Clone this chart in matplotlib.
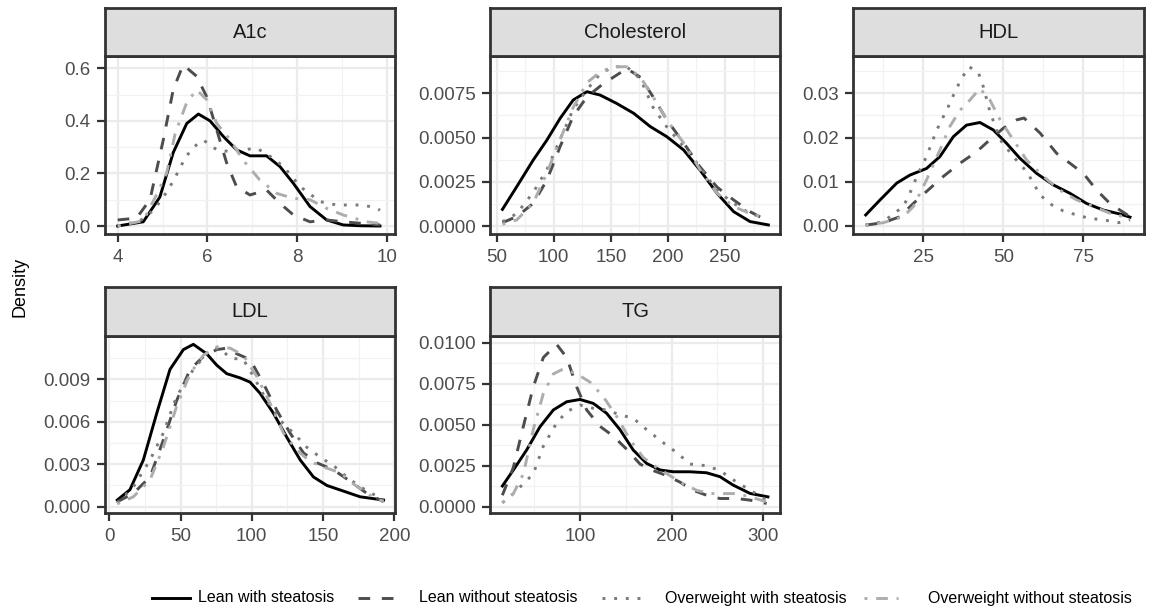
import matplotlib
matplotlib.use("Agg")
import matplotlib.pyplot as plt
from matplotlib.lines import Line2D

plt.rcParams['font.family'] = ['Liberation Sans', 'DejaVu Sans']

# groups (legend order)
groups = ['Lean with steatosis', 'Lean without steatosis',
          'Overweight with steatosis', 'Overweight without steatosis']

# ---- A1c ----
a1c_lws_x = [4.0, 4.57, 4.94, 5.24, 5.54, 5.8, 6.06, 6.36, 6.65, 6.95, 7.32, 7.62, 7.92, 8.29, 8.66, 9.03, 9.4, 9.85]
a1c_lws_y = [0.0, 0.016, 0.11, 0.28, 0.39, 0.426, 0.40, 0.34, 0.29, 0.267, 0.267, 0.226, 0.162, 0.074, 0.023, 0.004, 0.001, 0.0]
a1c_lns_x = [4.0, 4.42, 4.72, 5.02, 5.24, 5.46, 5.76, 5.99, 6.21, 6.43, 6.65, 6.95, 7.32, 7.62, 7.92, 8.29, 8.66, 9.03, 9.85]
a1c_lns_y = [0.023, 0.03, 0.1, 0.33, 0.52, 0.613, 0.57, 0.49, 0.365, 0.24, 0.15, 0.118, 0.137, 0.086, 0.042, 0.016, 0.023, 0.016, 0.004]
a1c_ows_x = [4.0, 4.5, 4.8, 5.02, 5.2, 5.35, 5.5, 5.69, 5.91, 6.21, 6.5, 6.8, 7.1, 7.36, 7.7, 8.07, 8.51, 8.88, 9.18, 9.48, 9.78, 9.85]
a1c_ows_y = [0.0, 0.02, 0.06, 0.11, 0.16, 0.207, 0.258, 0.30, 0.327, 0.29, 0.283, 0.29, 0.296, 0.27, 0.226, 0.15, 0.093, 0.08, 0.08, 0.08, 0.067, 0.06]
a1c_ons_x = [4.0, 4.57, 4.87, 5.09, 5.28, 5.54, 5.76, 5.99, 6.21, 6.5, 6.8, 7.17, 7.55, 7.92, 8.29, 8.66, 9.03, 9.55, 9.85]
a1c_ons_y = [0.0, 0.02, 0.12, 0.2, 0.35, 0.47, 0.518, 0.48, 0.39, 0.33, 0.25, 0.175, 0.124, 0.105, 0.1, 0.067, 0.042, 0.016, 0.01]

# ---- Cholesterol ----
chol_lws_x = [55, 67.5, 82, 94, 105.6, 117, 129, 140.6, 155, 170, 184.5, 199, 213.7, 228, 243, 257.6, 272, 288]
chol_lws_y = [0.00094, 0.00222, 0.00373, 0.00486, 0.00609, 0.00712, 0.00759, 0.0074, 0.00693, 0.00637, 0.00562, 0.00505, 0.0043, 0.00317, 0.00185, 0.00081, 0.00025, 0.00006]
chol_lns_x = [55, 67.5, 82, 94, 105.6, 117, 129, 140.6, 152, 164, 176, 187, 199, 213.7, 228, 243, 257.6, 272, 284]
chol_lns_y = [0.00019, 0.00053, 0.00128, 0.0026, 0.0045, 0.0062, 0.0073, 0.0079, 0.0084, 0.0089, 0.0084, 0.0073, 0.006, 0.0047, 0.00335, 0.0022, 0.00147, 0.00081, 0.0004]
chol_ows_x = [55, 67.5, 82, 94, 105.6, 117, 129, 140.6, 152, 164, 176, 187, 199, 213.7, 228, 243, 257.6, 272, 284]
chol_ows_y = [0.00024, 0.0007, 0.0019, 0.0032, 0.0049, 0.0066, 0.0077, 0.0086, 0.009, 0.009, 0.0083, 0.0067, 0.0056, 0.0045, 0.00335, 0.002, 0.00128, 0.0007, 0.0005]
chol_ons_x = [55, 67.5, 82, 94, 105.6, 117, 129, 140.6, 152, 164, 176, 187, 199, 213.7, 228, 243, 257.6, 272, 284]
chol_ons_y = [0.0001, 0.00034, 0.0013, 0.003, 0.0049, 0.0067, 0.0081, 0.0087, 0.009, 0.009, 0.0084, 0.0073, 0.006, 0.0047, 0.0032, 0.00185, 0.0011, 0.0007, 0.0005]

# ---- HDL ----
hdl_lws_x = [7, 11.5, 16.7, 20.8, 26, 30.2, 34.4, 38.5, 42.7, 46.9, 51, 55.2, 60.4, 65.6, 70.8, 76, 81.25, 86.5, 89.6]
hdl_lws_y = [0.0025, 0.0059, 0.0097, 0.0115, 0.013, 0.0157, 0.0202, 0.0228, 0.0234, 0.0217, 0.0187, 0.0153, 0.0119, 0.0093, 0.0074, 0.0051, 0.0036, 0.0027, 0.002]
hdl_lns_x = [7, 12.5, 17.7, 21.9, 26, 31.25, 36.5, 41.7, 45.8, 50, 54.2, 56.5, 61.5, 66.7, 70.8, 75, 79.2, 83.3, 89.6]
hdl_lns_y = [0.0002, 0.00075, 0.0021, 0.0051, 0.0078, 0.0112, 0.0142, 0.0168, 0.0195, 0.0221, 0.024, 0.0244, 0.021, 0.0164, 0.0142, 0.0119, 0.0081, 0.0051, 0.0021]
hdl_ows_x = [7, 12.5, 18.75, 20.8, 23.4, 26, 29.2, 31.25, 33.3, 34.9, 37, 39.3, 42.2, 43.75, 45.8, 49, 53.1, 57.3, 59.4, 61.5, 65.1, 68.75, 72.9, 77.1, 81.25, 86, 89.6]
hdl_ows_y = [0.0002, 0.001, 0.0044, 0.0074, 0.0119, 0.0157, 0.0217, 0.0247, 0.0277, 0.0304, 0.0334, 0.036, 0.0347, 0.0315, 0.0259, 0.0195, 0.0157, 0.0123, 0.0097, 0.007, 0.0048, 0.0034, 0.0025, 0.0017, 0.0014, 0.00075, 0.0014]
hdl_ons_x = [7, 12.5, 18.75, 21.9, 26, 30.2, 33.3, 36.5, 39.6, 42.7, 45.8, 49, 53.1, 57.3, 62.5, 67.7, 72.9, 78.1, 83.3, 89.6]
hdl_ons_y = [0.0002, 0.00075, 0.0021, 0.0044, 0.0104, 0.0172, 0.0225, 0.0262, 0.0285, 0.0311, 0.0285, 0.024, 0.0195, 0.0149, 0.0112, 0.0081, 0.0059, 0.0044, 0.0029, 0.0017]

# ---- LDL ----
ldl_lws_x = [5.6, 14.5, 23.9, 33.3, 42.6, 52, 59, 68.4, 75.4, 82.4, 91.8, 98.8, 105.9, 115.2, 124.6, 134, 143.3, 152.7, 164.4, 176, 192.5]
ldl_lws_y = [0.00047, 0.0012, 0.0033, 0.0066, 0.0097, 0.0111, 0.01147, 0.0108, 0.01, 0.0094, 0.0091, 0.0088, 0.008, 0.0066, 0.0049, 0.0033, 0.0021, 0.0015, 0.0011, 0.0007, 0.00047]
ldl_lns_x = [5.6, 16.9, 28.6, 37.9, 47.3, 56.7, 66, 75.4, 82.4, 89.5, 98.8, 108.2, 117.6, 126.9, 136.3, 145.7, 157.4, 169, 180.8, 192.5]
ldl_lns_y = [0.00035, 0.00094, 0.0021, 0.0047, 0.0075, 0.0097, 0.0106, 0.0111, 0.0112, 0.0108, 0.0104, 0.0087, 0.0068, 0.0052, 0.0038, 0.0031, 0.0026, 0.0018, 0.00094, 0.00035]
ldl_ows_x = [5.6, 16.9, 28.6, 37.9, 47.3, 59, 70.7, 77.8, 84.8, 94.1, 101.2, 110.5, 119.9, 129.3, 138.6, 148, 157.4, 166.7, 176.1, 192.5]
ldl_ows_y = [0.00024, 0.0014, 0.0033, 0.0052, 0.0078, 0.0097, 0.0111, 0.0112, 0.0105, 0.0104, 0.0092, 0.0075, 0.0061, 0.0052, 0.0042, 0.0035, 0.0029, 0.0021, 0.0014, 0.00047]
ldl_ons_x = [5.6, 16.9, 28.6, 37.9, 47.3, 56.7, 66, 75.4, 84.8, 94.1, 103.5, 112.9, 122.2, 131.6, 141, 150.4, 162, 171.4, 183.1, 192.5]
ldl_ons_y = [0.0002, 0.0007, 0.0019, 0.0042, 0.0071, 0.0094, 0.0107, 0.0113, 0.0112, 0.0107, 0.0092, 0.0073, 0.0052, 0.004, 0.0032, 0.0028, 0.0024, 0.0016, 0.0008, 0.00035]

# ---- TG ----
tg_lws_x = [15.3, 27.3, 41.8, 56.4, 70.9, 85.5, 100, 114.5, 129, 143.6, 158, 172.7, 187.3, 201.8, 220, 238, 252.7, 267, 285.5, 305]
tg_lws_y = [0.00126, 0.00224, 0.00346, 0.00488, 0.0059, 0.0064, 0.00654, 0.0063, 0.0057, 0.0047, 0.00346, 0.00264, 0.00224, 0.00213, 0.00213, 0.00207, 0.00183, 0.00132, 0.00081, 0.0006]
tg_lns_x = [15.3, 27.3, 38.2, 49, 60, 74.5, 85.5, 96.4, 107.3, 121.8, 136.4, 151, 165.5, 180, 194.5, 209, 223.6, 238, 252.7, 270.9, 285.5, 303.6]
tg_lns_y = [0.0007, 0.0024, 0.0049, 0.0073, 0.0091, 0.0099, 0.0091, 0.0073, 0.0059, 0.0049, 0.0043, 0.0035, 0.0026, 0.0022, 0.0019, 0.0015, 0.001, 0.0007, 0.0005, 0.0005, 0.0004, 0.0002]
tg_ows_x = [15.3, 27.3, 38.2, 49, 60, 74.5, 85.5, 100, 114.5, 129, 143.6, 158, 172.7, 190.9, 205.5, 220, 238, 252.7, 270.9, 289, 303.6]
tg_ows_y = [0.00024, 0.0008, 0.0014, 0.002, 0.0037, 0.0051, 0.0058, 0.0062, 0.006, 0.0059, 0.0056, 0.0054, 0.0047, 0.0039, 0.0033, 0.0026, 0.0025, 0.0022, 0.0015, 0.0009, 0.0004]
tg_ons_x = [15.3, 27.3, 38.2, 49, 60, 70.9, 81.8, 96.4, 110.9, 125.5, 140, 154.5, 169, 183.6, 198, 212.7, 227.3, 241.8, 256.4, 270.9, 285.5, 303.6]
tg_ons_y = [0.00024, 0.0008, 0.002, 0.0047, 0.0069, 0.0081, 0.0084, 0.0081, 0.0076, 0.0067, 0.0055, 0.0041, 0.003, 0.0024, 0.0019, 0.0014, 0.001, 0.0008, 0.0008, 0.0008, 0.0006, 0.0003]

# line styles per group
colors = ['#000000', '#4D4D4D', '#7A7A7A', '#ADADAD']
dashes = ['-', (0, (4, 4)), (0, (1, 3)), (0, (1, 3, 4, 3))]
LW = 2.1

# panel setup: name, series, xlim, ylim, xticks, yticks, tick label format
panels = [
    ('A1c', [(a1c_lws_x, a1c_lws_y), (a1c_lns_x, a1c_lns_y), (a1c_ows_x, a1c_ows_y), (a1c_ons_x, a1c_ons_y)],
     (3.717, 10.185), (-0.0304, 0.6468), [4, 6, 8, 10], [0.0, 0.2, 0.4, 0.6], '{:.1f}'),
    ('Cholesterol', [(chol_lws_x, chol_lws_y), (chol_lns_x, chol_lns_y), (chol_ows_x, chol_ows_y), (chol_ons_x, chol_ons_y)],
     (44.1, 298.2), (-0.000452, 0.009608), [50, 100, 150, 200, 250], [0, 0.0025, 0.005, 0.0075], '{:.4f}'),
    ('HDL', [(hdl_lws_x, hdl_lws_y), (hdl_lns_x, hdl_lns_y), (hdl_ows_x, hdl_ows_y), (hdl_ons_x, hdl_ons_y)],
     (3.03, 93.97), (-0.00181, 0.03843), [25, 50, 75], [0, 0.01, 0.02, 0.03], '{:.2f}'),
    ('LDL', [(ldl_lws_x, ldl_lws_y), (ldl_lns_x, ldl_lns_y), (ldl_ows_x, ldl_ows_y), (ldl_ons_x, ldl_ons_y)],
     (-3.0, 200.5), (-0.000445, 0.01206), [0, 50, 100, 150, 200], [0, 0.003, 0.006, 0.009], '{:.3f}'),
    ('TG', [(tg_lws_x, tg_lws_y), (tg_lns_x, tg_lns_y), (tg_ows_x, tg_ows_y), (tg_ons_x, tg_ons_y)],
     (1.8, 318.2), (-0.000384, 0.01041), [100, 200, 300], [0, 0.0025, 0.005, 0.0075, 0.01], '{:.4f}'),
]

W, H = 1154, 610
cols = [(105, 395), (490, 780), (853, 1144)]
rows = [((8, 56), (56, 234)), ((287, 336), (336, 513))]


def px_axes(fig, x0, x1, y0, y1):
    return fig.add_axes([x0 / W, 1 - y1 / H, (x1 - x0) / W, (y1 - y0) / H])


fig = plt.figure(figsize=(W / 100, H / 100), dpi=100)
border = '#333333'

for i, (name, series, xlim, ylim, xt, yt, fmt) in enumerate(panels):
    r, c = divmod(i, 3)
    (sy0, sy1), (py0, py1) = rows[r]
    x0, x1 = cols[c]

    ax = px_axes(fig, x0, x1, py0, py1)
    ax.set_xlim(xlim)
    ax.set_ylim(ylim)
    ax.set_xticks(xt)
    ax.set_yticks(yt)
    ax.set_yticklabels([fmt.format(v) for v in yt])
    ax.set_xticklabels([str(v) for v in xt])
    # minor gridlines halfway between majors
    xstep = xt[1] - xt[0]
    ystep = yt[1] - yt[0]
    xm = [v + xstep / 2 for v in [xt[0] - xstep] + xt]
    ym = [v + ystep / 2 for v in [yt[0] - ystep] + yt]
    ax.set_xticks([v for v in xm if xlim[0] < v < xlim[1]], minor=True)
    ax.set_yticks([v for v in ym if ylim[0] < v < ylim[1]], minor=True)
    ax.grid(which='major', color='#EBEBEB', lw=1.6)
    ax.grid(which='minor', color='#F2F2F2', lw=0.9)
    ax.set_axisbelow(True)
    ax.tick_params(which='minor', length=0)
    ax.tick_params(which='major', length=5.8, width=1.6, color=border,
                   labelcolor='#4D4D4D', labelsize=13.5)
    ax.tick_params(axis='y', pad=4.5)
    ax.tick_params(axis='x', pad=5)
    for s in ax.spines.values():
        s.set_color(border)
        s.set_linewidth(2.0)

    for (xs, ys), col, ls in zip(series, colors, dashes):
        ax.plot(xs, ys, color=col, linestyle=ls, lw=LW,
                solid_joinstyle='round', dash_joinstyle='round')

    sax = px_axes(fig, x0, x1, sy0, sy1)
    sax.set_facecolor('#DEDEDE')
    sax.set_xticks([])
    sax.set_yticks([])
    for s in sax.spines.values():
        s.set_color(border)
        s.set_linewidth(2.0)
    sax.text(0.5, 0.5, name, ha='center', va='center', fontsize=14.5,
             color='#1A1A1A', transform=sax.transAxes)

fig.text(20 / W, 1 - 287 / H, 'Density', rotation=90, ha='center', va='center',
         fontsize=13, color='black')

# legend drawn by hand: key spans and label starts in pixels
key_spans = [(152, 190), (358, 398), (602, 642), (864, 898)]
label_x = [198, 419, 665, 928]
ly = 1 - 598 / H
for (k0, k1), tx, lab, col, ls in zip(key_spans, label_x, groups, colors, dashes):
    fig.add_artist(Line2D([k0 / W, k1 / W], [ly, ly], transform=fig.transFigure,
                          color=col, linestyle=ls, lw=LW))
    fig.text(tx / W, ly, lab, ha='left', va='center', fontsize=11.5, color='black')

fig.savefig('out.png', dpi=100)
